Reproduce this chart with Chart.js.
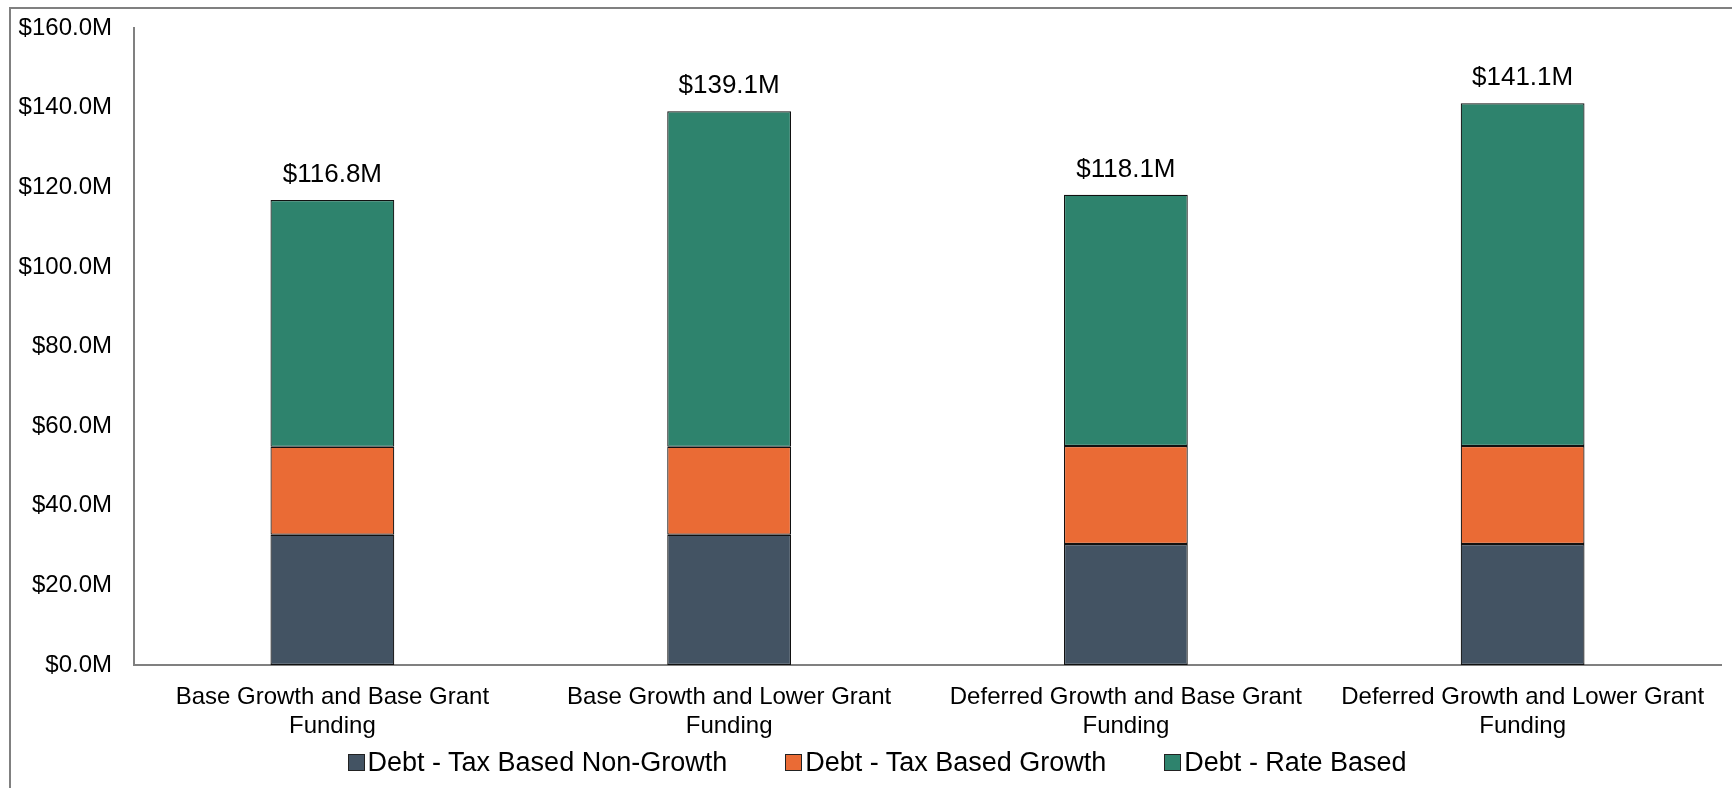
<!DOCTYPE html>
<html>
<head>
<meta charset="utf-8">
<script src="https://cdn.jsdelivr.net/npm/chart.js@4/dist/chart.umd.min.js"></script>
<style>
  html, body { margin: 0; padding: 0; background: #fff; }
  #wrap { position: relative; width: 1732px; height: 788px; overflow: hidden; }
  #frame { position: absolute; left: 9px; top: 7px; width: 1740px; height: 800px;
           border-left: 2px solid #808080; border-top: 2px solid #808080; box-sizing: border-box; }
  #myChart { position: absolute; left: 0; top: 0; }
  #legend { position: absolute; left: 0; width: 1754px; top: 747px; display: flex;
            justify-content: center; gap: 58px; font-family: "Liberation Sans", Arial, sans-serif;
            font-size: 27px; color: #000; line-height: 31px; }
  #legend .item { display: flex; align-items: center; }
  #legend .box { width: 15px; height: 15px; border: 1px solid #222; margin-right: 3px; }
</style>
</head>
<body>
<div id="wrap">
  <div id="frame"></div>
  <canvas id="myChart" width="1732" height="788"></canvas>
  <div id="legend"></div>
</div>
<script>
// values in $ millions
var categories = [
    ["Base Growth and Base Grant", "Funding"],
    ["Base Growth and Lower Grant", "Funding"],
    ["Deferred Growth and Base Grant", "Funding"],
    ["Deferred Growth and Lower Grant", "Funding"]
];
var seriesNames = ["Debt - Tax Based Non-Growth", "Debt - Tax Based Growth", "Debt - Rate Based"];
var taxNonGrowth = [32.7, 32.7, 30.4, 30.4];
var taxGrowth = [22.1, 22.1, 24.6, 24.6];
var rateBased = [62.0, 84.3, 63.1, 86.1];
var yTicks = [0, 20, 40, 60, 80, 100, 120, 140, 160];
var colors = ["#435363", "#ea6b35", "#2e836d"];

const fmt = function(v){ return "$" + Number(v).toFixed(1) + "M"; };

// total label above each stack
const totalsPlugin = {
    id: 'totals',
    afterDatasetsDraw(chart){
        const ctx = chart.ctx;
        const yScale = chart.scales.y;
        const lastMeta = chart.getDatasetMeta(chart.data.datasets.length - 1);
        ctx.save();
        ctx.font = '26px "Liberation Sans", Arial, sans-serif';
        ctx.fillStyle = '#000';
        ctx.textAlign = 'center';
        ctx.textBaseline = 'middle';
        chart.data.labels.forEach((lab, i) => {
            let total = 0;
            chart.data.datasets.forEach(ds => { total += ds.data[i]; });
            const x = lastMeta.data[i].x;
            const y = yScale.getPixelForValue(total);
            ctx.fillText(fmt(total), x, y - 25);
        });
        ctx.restore();
    }
};

const renderChart = function(){
    var ctx = document.getElementById("myChart").getContext('2d');
    var sets = [taxNonGrowth, taxGrowth, rateBased];
    var myChart = new Chart(ctx, {
        type: 'bar',
        data: {
            labels: categories,
            datasets: sets.map((d, i) => ({
                label: seriesNames[i],
                data: d,
                backgroundColor: colors[i],
                borderColor: '#111',
                borderWidth: 1.2,
                borderSkipped: false,
                barPercentage: 0.312,
                categoryPercentage: 1.0
            }))
        },
        options: {
            responsive: false,
            animation: false,
            layout: { padding: { top: 28, right: 11, left: 0, bottom: 0 } },
            plugins: {
                legend: { display: false },
                tooltip: { enabled: false }
            },
            scales: {
                x: {
                    stacked: true,
                    grid: { display: false, drawTicks: false },
                    border: { display: true, color: '#808080', width: 2 },
                    ticks: {
                        color: '#000',
                        padding: 18,
                        maxRotation: 0,
                        autoSkip: false,
                        font: { family: '"Liberation Sans", Arial, sans-serif', size: 24, lineHeight: 1.2 }
                    },
                    afterFit: function(scale){ scale.height = 123; scale.paddingLeft = 0; scale.paddingRight = 0; }
                },
                y: {
                    stacked: true,
                    min: 0,
                    max: 160,
                    grid: { display: false, drawTicks: false },
                    border: { display: true, color: '#808080', width: 2 },
                    afterBuildTicks: function(scale){
                        scale.ticks = yTicks.map(v => ({ value: v }));
                    },
                    ticks: {
                        color: '#000',
                        padding: 22,
                        font: { family: '"Liberation Sans", Arial, sans-serif', size: 24 },
                        callback: function(v){ return fmt(v); }
                    },
                    afterFit: function(scale){ scale.width = 134; scale.paddingTop = 0; scale.paddingBottom = 0; }
                }
            }
        },
        plugins: [totalsPlugin]
    });

    // legend as html
    var leg = document.getElementById('legend');
    seriesNames.forEach((n, i) => {
        var it = document.createElement('div');
        it.className = 'item';
        it.innerHTML = '<span class="box" style="background:' + colors[i] + '"></span><span>' + n + '</span>';
        leg.appendChild(it);
    });
};

renderChart();
</script>
</body>
</html>
